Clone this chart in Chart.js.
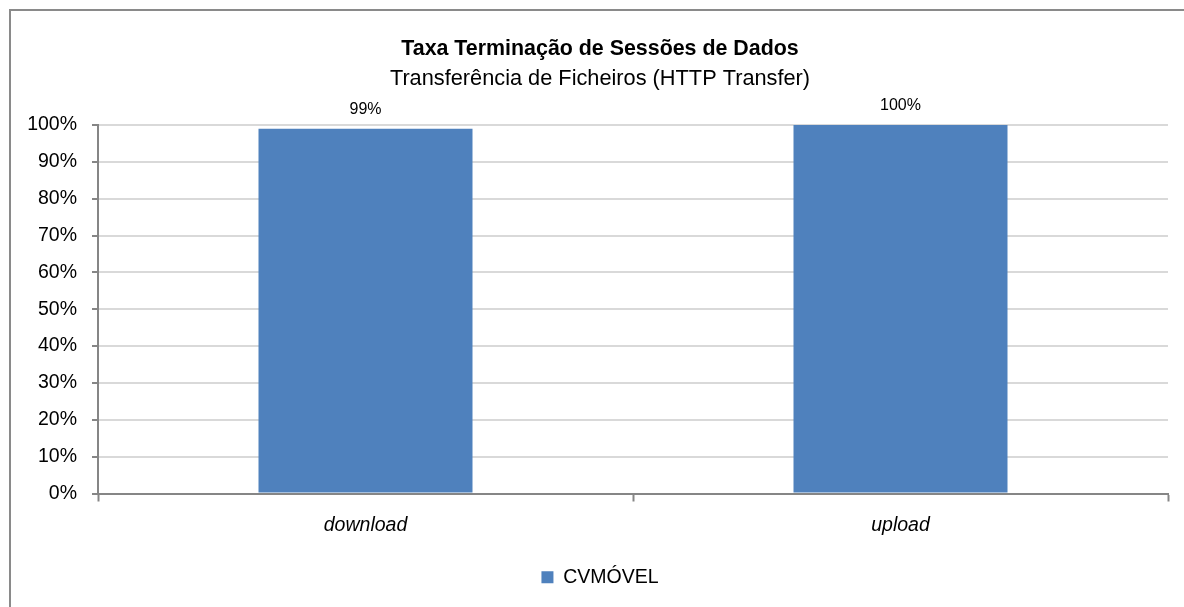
<!DOCTYPE html>
<html>
<head>
<meta charset="utf-8">
<script src="https://cdn.jsdelivr.net/npm/chart.js@4/dist/chart.umd.min.js"></script>
<style>
  body { margin: 0; background: #fff; overflow: hidden; }
  #frame { position: absolute; left: 9px; top: 9px; width: 1300px; height: 700px; border: 2px solid #8a8a8a; }
  #wrap { position: absolute; left: 0; top: 0; width: 1184px; height: 607px; }
</style>
</head>
<body>
<div id="frame"></div>
<div id="wrap"><canvas id="bar-chart"></canvas></div>
<script>
var categorias = ["download", "upload"];
var valores = [99, 100];
var serie = "CVMÓVEL";
var titulo = "Taxa Terminação de Sessões de Dados";
var subtitulo = "Transferência de Ficheiros (HTTP Transfer)";

// etiquetas em cima das barras
var rotulos = {
    id: 'rotulos',
    afterDatasetsDraw: function(chart) {
        var ctx = chart.ctx;
        var meta = chart.getDatasetMeta(0);
        ctx.save();
        ctx.font = '16px "Liberation Sans", Arial, sans-serif';
        ctx.fillStyle = '#000';
        ctx.textAlign = 'center';
        ctx.textBaseline = 'bottom';
        meta.data.forEach(function(bar, i) {
            ctx.fillText(valores[i] + '%', bar.x, bar.y - 11);
        });
        ctx.restore();
    }
};

Chart.defaults.font.family = '"Liberation Sans", Arial, sans-serif';
Chart.defaults.color = '#000';

var ctx = document.getElementById("bar-chart");
var chartGraph = new Chart(ctx, {
    type: 'bar',
    data: {
        labels: categorias,
        datasets: [{
            label: serie,
            data: valores,
            backgroundColor: '#4F81BD',
            barPercentage: 0.4,
            categoryPercentage: 1
        }]
    },
    options: {
        responsive: true,
        maintainAspectRatio: false,
        animation: false,
        // padding direita negativa: o titulo fica centrado na moldura
        layout: { padding: { top: 10, right: -16, left: 0, bottom: 10 } },
        scales: {
            x: {
                afterFit: function(scale) { scale.height = 64; },
                grid: { offset: true, drawOnChartArea: false, tickLength: 8, tickColor: '#868686', tickWidth: 2 },
                border: { color: '#868686', width: 2 },
                ticks: { font: { size: 19.5, style: 'italic' }, padding: 12 }
            },
            y: {
                min: 0,
                max: 100,
                afterFit: function(scale) { scale.width = 98; },
                grid: { color: '#d9d9d9', lineWidth: 2, tickLength: 6, tickColor: '#868686' },
                border: { color: '#868686', width: 2 },
                ticks: {
                    stepSize: 10,
                    padding: 15,
                    font: { size: 19.5 },
                    callback: function(value) { return value + '%'; }
                }
            },
            // eixo vazio so para reservar a margem direita
            margem: {
                type: 'linear',
                position: 'right',
                afterFit: function(scale) { scale.width = 32; },
                grid: { display: false },
                border: { display: false },
                ticks: { display: false }
            }
        },
        plugins: {
            title: {
                display: true,
                text: titulo,
                font: { size: 21.4, weight: 'bold' },
                padding: { top: 26.7, bottom: 0 }
            },
            subtitle: {
                display: true,
                text: subtitulo,
                font: { size: 21.75 },
                color: '#000',
                padding: { top: 4, bottom: 32.5 }
            },
            legend: {
                position: 'bottom',
                labels: { boxWidth: 12, boxHeight: 12, font: { size: 19.5 }, padding: 10 }
            },
            tooltip: { enabled: false }
        }
    },
    plugins: [rotulos]
});
</script>
</body>
</html>
